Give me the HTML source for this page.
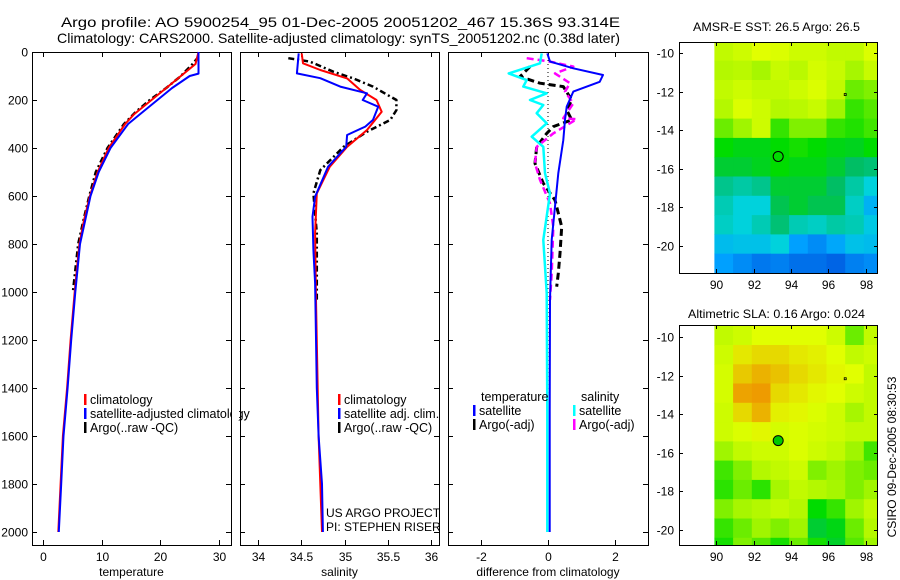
<!DOCTYPE html>
<html><head><meta charset="utf-8"><style>
html,body{margin:0;padding:0;background:#fff;}
svg{display:block;font-family:"Liberation Sans",sans-serif;}
</style></head><body>
<svg id="fig" width="900" height="580" viewBox="0 0 900 580" xmlns="http://www.w3.org/2000/svg">
<text x="61" y="27" font-size="14" textLength="559" lengthAdjust="spacingAndGlyphs">Argo profile: AO 5900254_95 01-Dec-2005 20051202_467 15.36S 93.314E</text>
<text x="57" y="43" font-size="14" textLength="563" lengthAdjust="spacingAndGlyphs">Climatology: CARS2000. Satellite-adjusted climatology: synTS_20051202.nc (0.38d later)</text>
<text x="693" y="31" font-size="12" textLength="167" lengthAdjust="spacingAndGlyphs">AMSR-E SST: 26.5 Argo: 26.5</text>
<text x="688" y="318" font-size="12" textLength="177" lengthAdjust="spacingAndGlyphs">Altimetric SLA: 0.16 Argo: 0.024</text>
<text x="0" y="0" font-size="12" text-anchor="middle" transform="translate(896,457) rotate(-90)">CSIRO 09-Dec-2005 08:30:53</text>
<g id="layer"></g>
</svg>
<script>
// ---------- data ----------
const tempDepth = [0,50,100,150,200,260,300,400,500,600,700,800,900,1000,1200,1400,1600,1800,2000];
const tempClim  = [26.5,26,23.5,21,18.5,15.5,14,11.2,9.3,8.0,7.0,6.2,5.8,5.4,4.7,4.1,3.4,3.0,2.6];
const tempSatDepth = [0,90,100,150,200,260,300,400,500,600,800,1000,1200,1400,1600,1800,2000];
const tempSat   = [26.5,26.5,25,22,19.5,16.5,14.5,11.5,9.5,8.1,6.3,5.5,4.8,4.2,3.5,3.1,2.7];
const tempArgoDepth = [20,50,100,150,200,250,300,400,500,600,700,800,1000];
const tempArgo  = [26.5,25.5,23.5,21,18.2,15.8,13.8,11,9.0,7.9,6.9,6.0,5.1];

const salClimDepth = [6,47,75,110,158,200,249,325,395,478,589,755,1033,1600,2000];
const salClim   = [34.505,34.52,34.72,35.03,35.18,35.37,35.43,35.26,35.03,34.83,34.68,34.66,34.67,34.70,34.74];
const salSatDepth = [6,89,109,144,172,200,228,283,311,346,395,478,603,686,825,963,1400,1600,1800,2000];
const salSat    = [34.47,34.45,34.72,34.95,35.26,35.21,35.39,35.33,35.24,35.03,35.02,34.81,34.66,34.63,34.64,34.66,34.68,34.70,34.74,34.75];
const salArgoDepth = [26,40,82,110,144,200,242,283,332,395,492,589,755,1033];
const salArgo   = [34.35,34.60,34.87,35.10,35.33,35.60,35.60,35.53,35.26,34.99,34.72,34.64,34.68,34.68];

const dTempSatDepth = [6,40,68,96,124,165,228,283,367,505,644,783,1033,1500,2000];
const dTempSat  = [-0.02,0.06,0.76,1.65,1.55,0.76,0.56,0.51,0.46,0.31,0.21,0.11,0.06,0.05,0.05];
const dSalSatDepth = [6,47,89,117,144,172,200,221,255,297,353,395,505,589,783,1004,1500,2000];
const dSalSat   = [-0.19,-0.24,-1.18,-0.64,-0.74,-0.04,-0.54,-0.14,-0.34,-0.04,-0.49,-0.14,-0.09,0.06,-0.14,-0.04,-0.02,-0.02];
const dTempArgoDepth = [61,103,130,144,200,242,283,311,339,395,464,547,617,728,839,922,978];
const dTempArgo = [-0.54,-0.84,-0.24,0.46,0.71,0.56,0.71,0.16,-0.04,-0.34,-0.39,-0.14,0.21,0.41,0.36,0.31,0.26];
const dSalArgoDepth = [26,40,61,89,130,165,214,276,280,339,395,464,533,631,728,922,1033];
const dSalArgo  = [-0.64,0.06,0.76,0.21,0.66,0.51,0.76,0.46,0.86,0.16,-0.34,-0.39,-0.24,0.06,0.16,0.11,0.06];

const depthTicks = [0,200,400,600,800,1000,1200,1400,1600,1800,2000];
const tempTicks = [0,10,20,30];
const salTicks = [34,34.5,35,35.5,36];
const salTickLabels = ["34","34.5","35","35.5","36"];
const diffTicks = [-2,0,2];
const lonTicks = [90,92,94,96,98];
const latTicks = [-10,-12,-14,-16,-18,-20];

const mapLons = [89.9,90.9,91.9,92.9,93.9,94.9,95.9,96.9,97.9];
const mapLats = [-9.4,-10.4,-11.4,-12.4,-13.4,-14.4,-15.4,-16.4,-17.4,-18.4,-19.4,-20.4];
const sstGrid = [
[0.80,0.82,0.85,0.84,0.82,0.82,0.80,0.80,0.84],
[0.78,0.79,0.76,0.81,0.79,0.83,0.81,0.76,0.81],
[0.80,0.82,0.80,0.80,0.82,0.84,0.80,0.70,0.72],
[0.78,0.84,0.82,0.78,0.79,0.81,0.75,0.65,0.68],
[0.70,0.75,0.82,0.65,0.72,0.72,0.65,0.63,0.66],
[0.60,0.58,0.58,0.60,0.62,0.60,0.58,0.57,0.60],
[0.55,0.55,0.57,0.60,0.58,0.58,0.55,0.50,0.48],
[0.45,0.42,0.45,0.55,0.55,0.55,0.50,0.42,0.35],
[0.40,0.35,0.35,0.52,0.55,0.52,0.52,0.38,0.25],
[0.38,0.35,0.40,0.48,0.40,0.38,0.42,0.40,0.32],
[0.28,0.30,0.30,0.35,0.20,0.15,0.22,0.30,0.28],
[0.20,0.15,0.10,0.12,0.08,0.08,0.05,0.12,0.15]];
const slaGrid = [
[0.80,0.82,0.85,0.85,0.85,0.85,0.82,0.70,0.80],
[0.82,0.88,0.90,0.90,0.88,0.87,0.85,0.80,0.82],
[0.83,0.92,0.95,0.93,0.90,0.88,0.86,0.85,0.80],
[0.83,0.97,0.98,0.90,0.88,0.86,0.85,0.82,0.80],
[0.82,0.90,0.95,0.87,0.86,0.84,0.82,0.76,0.80],
[0.82,0.84,0.86,0.83,0.84,0.83,0.82,0.80,0.80],
[0.75,0.80,0.82,0.82,0.84,0.82,0.80,0.75,0.66],
[0.66,0.72,0.78,0.80,0.82,0.72,0.75,0.72,0.70],
[0.64,0.70,0.64,0.76,0.80,0.78,0.76,0.72,0.75],
[0.72,0.76,0.78,0.80,0.78,0.60,0.65,0.75,0.80],
[0.65,0.70,0.75,0.72,0.75,0.55,0.58,0.70,0.78],
[0.62,0.72,0.68,0.62,0.70,0.62,0.56,0.68,0.75]];
const floatLon = 93.314, floatLat = -15.36;

// ---------- drawing ----------
const NS='http://www.w3.org/2000/svg';
const layer=document.getElementById('layer');
function mk(tag,attrs,parent){const e=document.createElementNS(NS,tag);for(const k in attrs)e.setAttribute(k,attrs[k]);(parent||layer).appendChild(e);return e;}
function lin(d0,d1,p0,p1){return v=>p0+(v-d0)*(p1-p0)/(d1-d0);}

const Y0=52, Y1=545;
const yDepth=lin(0,2054,Y0,Y1);

function panel(name,x0,x1,xs,ticks,labels,xlabel,showY){
  const f=mk('rect',{x:x0+.5,y:Y0+.5,width:x1-x0,height:Y1-Y0,fill:'none',stroke:'#000','stroke-width':1});
  
  
  ticks.forEach((t,i)=>{const x=Math.round(xs(t))+.5;
    mk('line',{x1:x,x2:x,y1:Y1,y2:Y1-5,stroke:'#000'});mk('line',{x1:x,x2:x,y1:Y0,y2:Y0+5,stroke:'#000'});
    const tl=mk('text',{x:x,y:Y1+16,'font-size':12,'text-anchor':'middle'});tl.textContent=labels[i];
    
    });
  depthTicks.forEach(d=>{const y=Math.round(yDepth(d))+.5;
    mk('line',{x1:x0,x2:x0+5,y1:y,y2:y,stroke:'#000'});mk('line',{x1:x1,x2:x1-5,y1:y,y2:y,stroke:'#000'});
    if(showY){const tl=mk('text',{x:x0-4,y:y+4,'font-size':12,'text-anchor':'end'});tl.textContent=d;
      
      }});
  const xl=mk('text',{x:(x0+x1)/2,y:576,'font-size':12,'text-anchor':'middle'});xl.textContent=xlabel;
  
  
}
function series(name,xs,vals,depths,color,w,dash){
  const pts=vals.map((v,i)=>xs(v).toFixed(1)+','+yDepth(depths[i]).toFixed(1)).join(' ');
  const a={points:pts,fill:'none',stroke:color,'stroke-width':w,'stroke-linejoin':'round'};
  if(dash)a['stroke-dasharray']=dash;
  const p=mk('polyline',a);
  
  
}
function legend(name,x,y,color,label){
  mk('rect',{x:x,y:y-10,width:2.5,height:11,fill:color});
  const t=mk('text',{x:x+6,y:y,'font-size':12.5});t.textContent=label;
  
  
}

// panel 1
const xT=lin(0,30,43,219);
panel('temperature-panel',32,231,xT,tempTicks,tempTicks.map(String),'temperature',true);
series('temp-argo-line',xT,tempArgo,tempArgoDepth,'#000',2.5,'6,3,2,3');
series('temp-clim-line',xT,tempClim,tempDepth,'#f00',2);
series('temp-sat-line',xT,tempSat,tempSatDepth,'#00f',2);
legend('legend-climatology',84,404,'#f00','climatology');
legend('legend-satellite-adjusted',84,418,'#00f','satellite-adjusted climatology');
legend('legend-argo',84,432,'#000','Argo(..raw -QC)');
mk('rect',{x:232,y:390,width:7,height:30,fill:'#fff'});

// panel 2
const xS=lin(34,36,258,431);
panel('salinity-panel',240,439,xS,salTicks,salTickLabels,'salinity',false);
series('sal-argo-line',xS,salArgo,salArgoDepth,'#000',2.5,'6,3,2,3');
series('sal-clim-line',xS,salClim,salClimDepth,'#f00',2);
series('sal-sat-line',xS,salSat,salSatDepth,'#00f',2);
legend('legend-sal-climatology',338,404,'#f00','climatology');
legend('legend-sal-satellite',338,418,'#00f','satellite adj. clim.');
legend('legend-sal-argo',338,432,'#000','Argo(..raw -QC)');
[['US ARGO PROJECT',517],['PI: STEPHEN RISER',531]].forEach(([s,y])=>{const t=mk('text',{x:326,y:y,'font-size':12});t.textContent=s;
  
  });

// panel 3
const xD=lin(-3,3,448,648);
panel('difference-panel',448,648,xD,diffTicks,diffTicks.map(String),'difference from climatology',false);
mk('line',{x1:xD(0),x2:xD(0),y1:Y0,y2:yDepth(2000),stroke:'#000','stroke-width':1,'stroke-dasharray':'1,3'});
series('diff-temp-argo-line',xD,dTempArgo,dTempArgoDepth,'#000',3,'7,4');
series('diff-sal-argo-line',xD,dSalArgo,dSalArgoDepth,'#f0f',2.5,'7,4');
series('diff-sal-sat-line',xD,dSalSat,dSalSatDepth,'#0ff',2.5);
series('diff-temp-sat-line',xD,dTempSat,dTempSatDepth,'#00f',2);
[['temperature',481],['salinity',581]].forEach(([s,x])=>{const t=mk('text',{x:x,y:401,'font-size':12.5});t.textContent=s;
  
  });
legend('legend-diff-temp-sat',473,415,'#00f','satellite');
legend('legend-diff-temp-argo',473,429,'#000','Argo(-adj)');
legend('legend-diff-sal-sat',573,415,'#0ff','satellite');
legend('legend-diff-sal-argo',573,429,'#f0f','Argo(-adj)');

// maps
const cstops=[[0,[0,80,220]],[0.2,[0,160,255]],[0.35,[0,210,220]],[0.5,[0,190,100]],[0.6,[0,220,0]],[0.75,[160,245,0]],[0.85,[225,255,0]],[1,[240,140,0]]];
function cmap(v){for(let i=1;i<cstops.length;i++){if(v<=cstops[i][0]){const [a,ca]=cstops[i-1],[b,cb]=cstops[i];const t=(v-a)/(b-a);
  return 'rgb('+ca.map((c,k)=>Math.round(c+(cb[k]-c)*t)).join(',')+')';}}return 'rgb(240,140,0)';}
function map(name,grid,top,bottom,latTop,latBot){
  const x0=679,x1=878;
  const xl=lin(90,98,716.3,865.7), yl=lin(latTop,latBot,top,bottom);
  const g=mk('g',{});
  
  
  mk('clipPath',{id:name+'-clip'},g);
  mk('rect',{x:x0,y:top,width:x1-x0,height:bottom-top},g.lastChild);
  const cg=mk('g',{'clip-path':'url(#'+name+'-clip)'},g);
  grid.forEach((row,r)=>row.forEach((v,c)=>{
    const X=xl(mapLons[c]),Y=yl(mapLats[r]);
    const cell=mk('rect',{x:X.toFixed(1),y:Y.toFixed(1),width:(xl(mapLons[c]+1)-X+0.5).toFixed(1),height:(yl(mapLats[r]-1)-Y+0.5).toFixed(1),fill:cmap(v)},cg);
    
    
  }));
  mk('rect',{x:x0+.5,y:top+.5,width:x1-x0-1,height:bottom-top,fill:'none',stroke:'#000'},g);
  lonTicks.forEach(l=>{const x=Math.round(xl(l))+.5;
    mk('line',{x1:x,x2:x,y1:top,y2:top+4,stroke:'#000'},g);mk('line',{x1:x,x2:x,y1:bottom,y2:bottom-4,stroke:'#000'},g);
    const t=mk('text',{x:x,y:bottom+16,'font-size':12,'text-anchor':'middle'},g);t.textContent=l;
    
    });
  latTicks.forEach(l=>{const y=Math.round(yl(l))+.5;
    mk('line',{x1:x0,x2:x0+4,y1:y,y2:y,stroke:'#000'},g);mk('line',{x1:x1,x2:x1-4,y1:y,y2:y,stroke:'#000'},g);
    const t=mk('text',{x:x0-5,y:y+4,'font-size':12,'text-anchor':'end'},g);t.textContent=l;
    
    });
  const m=mk('circle',{cx:xl(floatLon),cy:yl(floatLat),r:5,fill:name==='sla-map'?'#00c800':'none',stroke:'#000'},g);
  
  
  mk('rect',{x:xl(96.85),y:yl(-12.1),width:2,height:2,fill:'none',stroke:'#000','stroke-width':0.8},g);
}
map('sst-map',sstGrid,42,273,-10+(53-42)/19.3,-20-(273-246)/19.3);
map('sla-map',slaGrid,325,545,-10+(337.3-325)/19.33,-20-(545-530)/19.33);
</script>
</body></html>
